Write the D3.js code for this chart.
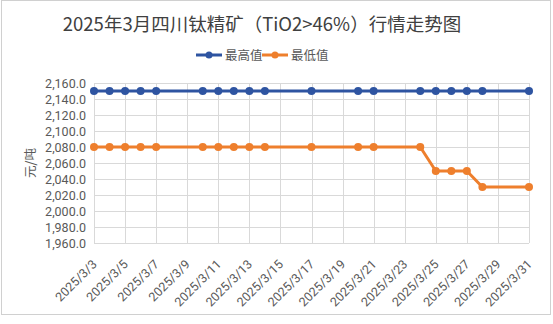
<!DOCTYPE html>
<html><head><meta charset="utf-8">
<script src="https://cdn.jsdelivr.net/npm/d3@7"></script>
<style>
body{margin:0;background:#fff;}
svg{display:block;font-family:"Noto Sans CJK SC","Microsoft YaHei",sans-serif;}
</style></head><body>
<svg id="c" width="553" height="324"></svg>
<script>
const title = "2025年3月四川钛精矿（TiO2>46%）行情走势图";
const yLabel = "元/吨";
const seriesNames = ["最高值", "最低值"];
const colors = ["#2E54A1", "#EE7F2D"];
const dates = ["2025/3/3","2025/3/4","2025/3/5","2025/3/6","2025/3/7","2025/3/10","2025/3/11","2025/3/12","2025/3/13","2025/3/14","2025/3/17","2025/3/20","2025/3/21","2025/3/24","2025/3/25","2025/3/26","2025/3/27","2025/3/28","2025/3/31"];
const highValues = [2150,2150,2150,2150,2150,2150,2150,2150,2150,2150,2150,2150,2150,2150,2150,2150,2150,2150,2150];
const lowValues  = [2080,2080,2080,2080,2080,2080,2080,2080,2080,2080,2080,2080,2080,2080,2050,2050,2050,2030,2030];
const xTickLabels = ["2025/3/3","2025/3/5","2025/3/7","2025/3/9","2025/3/11","2025/3/13","2025/3/15","2025/3/17","2025/3/19","2025/3/21","2025/3/23","2025/3/25","2025/3/27","2025/3/29","2025/3/31"];
const yTicks = [1960,1980,2000,2020,2040,2060,2080,2100,2120,2140,2160];

const parse = d3.timeParse("%Y/%-m/%-d");
const svg = d3.select("#c");
const W = 553, H = 324;
const m = {l:94, r:24, t:83, b:81};

svg.append("rect").attr("x",1.5).attr("y",0.5).attr("width",549).attr("height",314)
  .attr("fill","#fff").attr("stroke","#d0d0d0");

const x = d3.scaleTime().domain([parse(xTickLabels[0]), parse(xTickLabels[xTickLabels.length-1])]).range([m.l, W-m.r]);
const y = d3.scaleLinear().domain([1960,2160]).range([H-m.b, m.t]);

// grid
const g = svg.append("g");
g.selectAll(".hg").data(yTicks).join("line")
  .attr("x1",m.l).attr("x2",x.range()[1])
  .attr("y1",d=>Math.round(y(d))+0.5).attr("y2",d=>Math.round(y(d))+0.5)
  .attr("stroke","#d9d9d9").attr("stroke-width",1);
g.selectAll(".vg").data(xTickLabels).join("line")
  .attr("x1",d=>Math.round(x(parse(d)))+0.5).attr("x2",d=>Math.round(x(parse(d)))+0.5)
  .attr("y1",y(2160)).attr("y2",y(1960))
  .attr("stroke","#d9d9d9").attr("stroke-width",1);

// y axis
const ya = svg.append("g").attr("transform",`translate(${m.l},0)`)
  .call(d3.axisLeft(y).tickValues(yTicks).tickSize(0).tickPadding(8).tickFormat(d3.format(",.1f")));
ya.select(".domain").remove();
ya.selectAll("text").attr("fill","#595959").attr("font-size","12.5px").attr("font-family","Roboto, 'Noto Sans', sans-serif");

// x axis
const xa = svg.append("g").attr("transform",`translate(0,${y(1960)})`)
  .call(d3.axisBottom(x).tickValues(xTickLabels.map(parse)).tickSize(0).tickFormat((d,i)=>xTickLabels[i]));
xa.select(".domain").remove();
xa.selectAll("text").attr("fill","#595959").attr("font-size","12.5px")
  .attr("font-family","Roboto, 'Noto Sans', sans-serif")
  .attr("text-anchor","end").attr("dy","0")
  .attr("transform","translate(1,20) rotate(-45)");

// y label
svg.append("text").attr("transform",`translate(35,163) rotate(-90)`)
  .attr("text-anchor","middle").attr("fill","#595959").attr("font-size","12.5px").text(yLabel);

// title
svg.append("text").attr("x",262).attr("y",31).attr("text-anchor","middle")
  .attr("fill","#404040").attr("font-size","18.5px").text(title);

// series
const series = [highValues, lowValues];
const line = d3.line().x((d,i)=>x(parse(dates[i]))).y(d=>y(d));
series.forEach((vals,k)=>{
  svg.append("path").datum(vals).attr("d",line).attr("fill","none")
    .attr("stroke",colors[k]).attr("stroke-width",3).attr("stroke-linejoin","round");
  svg.append("g").selectAll("circle").data(vals).join("circle")
    .attr("cx",(d,i)=>x(parse(dates[i]))).attr("cy",d=>y(d)).attr("r",4)
    .attr("fill",colors[k]);
});

// legend
const legX = [196, 262];
seriesNames.forEach((n,k)=>{
  const lg = svg.append("g").attr("transform",`translate(${legX[k]},55)`);
  lg.append("line").attr("x1",0).attr("x2",26).attr("y1",0).attr("y2",0).attr("stroke",colors[k]).attr("stroke-width",3);
  lg.append("circle").attr("cx",13).attr("cy",0).attr("r",3.5).attr("fill",colors[k]);
  lg.append("text").attr("x",29).attr("y",4.5).attr("fill","#595959").attr("font-size","12.5px").text(n);
});
</script></body></html>
